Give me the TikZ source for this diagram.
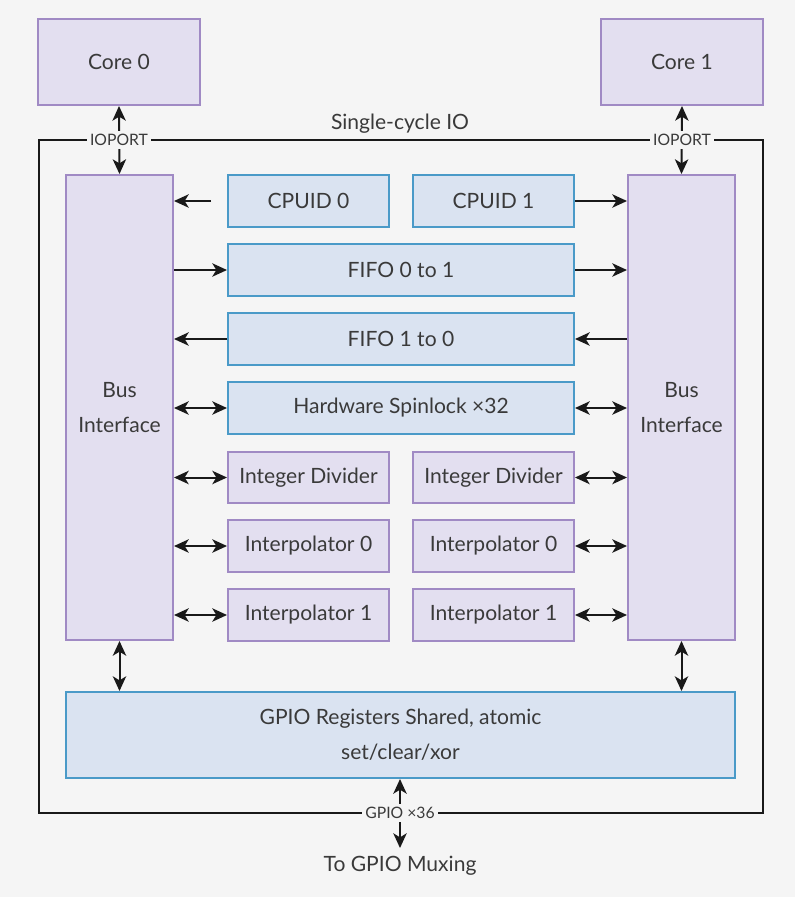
\documentclass[tikz,border=0pt]{standalone}
\usepackage{fontspec}
\setmainfont{Lato}
\usetikzlibrary{arrows.meta}
\definecolor{bg}{HTML}{F5F5F5}
\definecolor{pfill}{HTML}{E3DFF0}
\definecolor{pdraw}{HTML}{A08AC4}
\definecolor{bfill}{HTML}{DAE3F1}
\definecolor{bdraw}{HTML}{4A9AC8}
\definecolor{txt}{HTML}{3A3A3A}
\tikzset{
  sz/.style 2 args={minimum width=#1*0.75pt, minimum height=#2*0.75pt},
  pbox/.style={draw=pdraw, fill=pfill, line width=1.5pt, inner sep=0pt, text=txt, font=\fontsize{15.8}{18}\selectfont, align=center},
  bbox/.style={draw=bdraw, fill=bfill, line width=1.5pt, inner sep=0pt, text=txt, font=\fontsize{15.8}{18}\selectfont, align=center},
  lbl/.style={fill=bg, inner sep=2.5pt, text=txt, font=\fontsize{11.8}{13}\selectfont},
  tip/.tip={Stealth[length=11pt,width=10pt,inset=3pt]},
  arr/.style={line width=1.5pt, draw=black!90, -tip},
  darr/.style={line width=1.5pt, draw=black!90, tip-tip},
}
\begin{document}
\begin{tikzpicture}[x=0.75pt,y=-0.75pt]
\fill[bg] (0,0) rectangle (795,897);
\useasboundingbox (0,0) rectangle (795,897);
% frame
\draw[line width=1.5pt, black!90] (39,140) rectangle (763,813);
% nodes
\node[pbox, sz={162}{86}] (core0) at (119,62) {Core 0};
\node[pbox, sz={162}{86}] (core1) at (682,62) {Core 1};
\node[pbox, sz={107}{465}] (busL) at (119.5,407.5) {Bus\\[8pt]Interface};
\node[pbox, sz={107}{465}] (busR) at (681.5,407.5) {Bus\\[8pt]Interface};
\node[bbox, sz={161}{52}] (cpuid0) at (308.5,201) {CPUID 0};
\node[bbox, sz={161}{52}] (cpuid1) at (493.5,201) {CPUID 1};
\node[bbox, sz={346}{52}] (fifo01) at (401,270) {FIFO 0 to 1};
\node[bbox, sz={346}{52}] (fifo10) at (401,339) {FIFO 1 to 0};
\node[bbox, sz={346}{52}] (spin) at (401,408) {Hardware Spinlock ×32};
\node[pbox, sz={161}{51}] (divL) at (308.5,477.5) {Integer Divider};
\node[pbox, sz={161}{51}] (divR) at (493.5,477.5) {Integer Divider};
\node[pbox, sz={161}{52}] (i0L) at (308.5,546) {Interpolator 0};
\node[pbox, sz={161}{52}] (i0R) at (493.5,546) {Interpolator 0};
\node[pbox, sz={161}{52}] (i1L) at (308.5,615) {Interpolator 1};
\node[pbox, sz={161}{52}] (i1R) at (493.5,615) {Interpolator 1};
\node[bbox, sz={669}{86}] (gpio) at (400.5,735) {GPIO Registers Shared, atomic\\[8pt]set/clear/xor};
\node[text=txt, font=\fontsize{15.8}{18}\selectfont] (sc) at (400,124) {Single-cycle IO};
% arrows
\draw[darr] (core0.south) -- (busL.north);
\draw[darr] (core1.south) -- (busR.north);
\node[lbl] (io0) at (119,140) {IOPORT};
\node[lbl] (io1) at (682,140) {IOPORT};
\draw[arr] ([xshift=-12pt]cpuid0.west) -- (busL.east |- cpuid0.west);
\draw[arr] (cpuid1.east) -- (busR.west |- cpuid1.east);
\draw[arr] (busL.east |- fifo01.west) -- (fifo01.west);
\draw[arr] (fifo01.east) -- (busR.west |- fifo01.east);
\draw[arr] (fifo10.west) -- (busL.east |- fifo10.west);
\draw[arr] (busR.west |- fifo10.east) -- (fifo10.east);
\draw[darr] (busL.east |- spin.west) -- (spin.west);
\draw[darr] (spin.east) -- (busR.west |- spin.east);
\draw[darr] (busL.east |- divL.west) -- (divL.west);
\draw[darr] (divR.east) -- (busR.west |- divR.east);
\draw[darr] (busL.east |- i0L.west) -- (i0L.west);
\draw[darr] (i0R.east) -- (busR.west |- i0R.east);
\draw[darr] (busL.east |- i1L.west) -- (i1L.west);
\draw[darr] (i1R.east) -- (busR.west |- i1R.east);
\draw[darr] (busL.south) -- (busL.south |- gpio.north);
\draw[darr] (busR.south) -- (busR.south |- gpio.north);
\coordinate (gend) at (400,848);
\draw[darr] (gpio.south -| gend) -- (gend);
\node[lbl] (g36) at (400,813) {GPIO ×36};
\node[text=txt, font=\fontsize{15.8}{18}\selectfont] (mux) at (400,866) {To GPIO Muxing};
\end{tikzpicture}
\end{document}
